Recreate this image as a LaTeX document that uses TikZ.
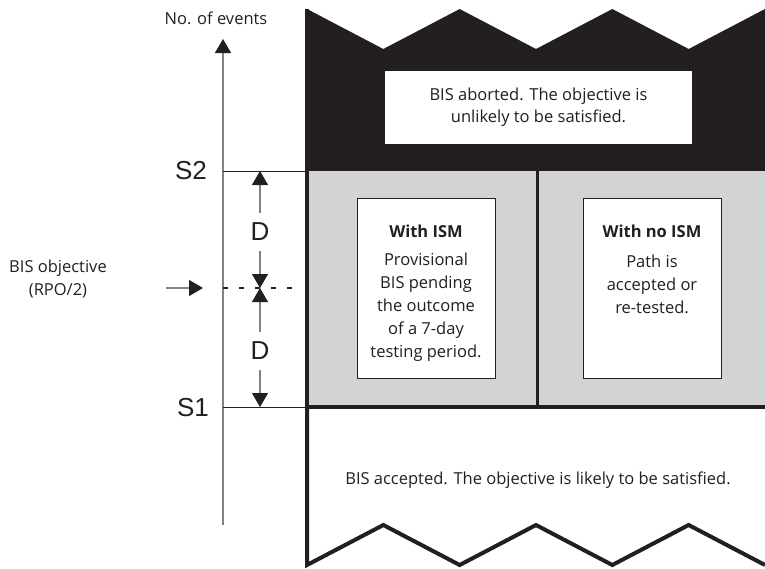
\documentclass[tikz,border=0pt]{standalone}
\usepackage{fontspec}
\setmainfont{Open Sans}
\newfontfamily\levelfont{Liberation Sans}
\usepackage{tikz}
\usetikzlibrary{arrows.meta,positioning}
\definecolor{ink}{HTML}{231F20}
\definecolor{panel}{HTML}{D1D3D4}
\definecolor{shaft}{HTML}{808285}

\tikzset{
   tip/.style={-{Triangle[length=14pt,width=16pt,color=ink]}},
   shaftline/.style={line width=1.1pt, shaft},
   body/.style={font=\fontsize{16.5}{23}\selectfont, text=ink, align=center, inner sep=0pt},
   level/.style={font=\levelfont\fontsize{26}{26}\selectfont, text=ink, inner sep=1pt},
   card/.style={draw=ink, line width=0.9pt, fill=white, minimum width=138pt, minimum height=180pt, inner sep=0pt},
}

\begin{document}
\begin{tikzpicture}[x=1pt,y=-1pt]
   \useasboundingbox (0,0) rectangle (765,568);

   % coords
   \coordinate (axbot) at (223,525);
   \coordinate (axtop) at (223,39);
   \coordinate (s2l) at (223,171);
   \coordinate (s2r) at (307,171);
   \coordinate (s1l) at (223,407);
   \coordinate (s1r) at (307,407);
   \coordinate (objl) at (223,288);
   \coordinate (objr) at (293,288);
   \coordinate (s2tip) at (260,171);
   \coordinate (objtip) at (260,288);
   \coordinate (s1tip) at (260,407);
   \coordinate (arrtail) at (166,288);
   \coordinate (arrhead) at (203,288);

   % black region (aborted)
   \fill[ink] (307,171) -- (307,9)
      \foreach \k in {1,...,6}{ -- ({307+\k*76.33},{29-20*cos(180*\k)}) }
      -- (765,171) -- cycle;
   \node[fill=white, minimum width=307pt, minimum height=73pt, body, font=\fontsize{16.5}{22}\selectfont] (aborted) at (538.5,107.5)
      {BIS aborted. The objective is\\unlikely to be satisfied.};

   % grey region (pending)
   \fill[panel] (307,171) rectangle (765,407);
   \draw[ink, line width=3pt] (537,171) -- (537,407);
   \node[card] (ism) at (426,288) {};
   \node[card] (noism) at (652,288) {};
   \node[body] (ismtitle) at (426,231) {\textbf{With ISM}};
   \node[body] (ismtext) at (426,307) {Provisional\\BIS pending\\the outcome\\of a 7-day\\testing period.};
   \node[body] (noismtitle) at (652,231) {\textbf{With no ISM}};
   \node[body] (noismtext) at (652,284) {Path is\\accepted or\\re-tested.};

   % white region (accepted)
   \draw[ink, line width=4pt] (307,407) -- (307,565)
      \foreach \k in {1,...,6}{ -- ({307+\k*76.33},{545+20*cos(180*\k)}) };
   \draw[ink, line width=4pt] (307,407) -- (767,407);
   \draw[ink, line width=4.5pt] (307,9) -- (307,565);
   \node[body] (accepted) at (538,480) {BIS accepted. The objective is likely to be satisfied.};

   % axis
   \draw[shaftline, tip] (axbot) -- (axtop);
   \node[body] (events) at (216,18) {No. of events};
   \draw[ink, line width=1pt] (s2l) -- (s2r);
   \draw[ink, line width=1pt] (s1l) -- (s1r);
   \node[level, anchor=east] (s2) at (208,171) {S2};
   \node[level, anchor=east] (s1) at (210,408) {S1};
   \draw[ink, line width=2pt, dash pattern=on 5pt off 11pt] (objl) -- (objr);

   % distances
   \node[level, inner sep=10pt] (dup) at (260,232) {D};
   \node[level, inner sep=10pt] (ddown) at (260,351) {D};
   \draw[shaftline, tip] (dup) -- (s2tip);
   \draw[shaftline, tip] (dup) -- (objtip);
   \draw[shaftline, tip] (ddown) -- (objtip);
   \draw[shaftline, tip] (ddown) -- (s1tip);

   % objective
   \node[body] (objective) at (58,279) {BIS objective\\(RPO/2)};
   \draw[shaftline, tip] (arrtail) -- (arrhead);
\end{tikzpicture}
\end{document}
